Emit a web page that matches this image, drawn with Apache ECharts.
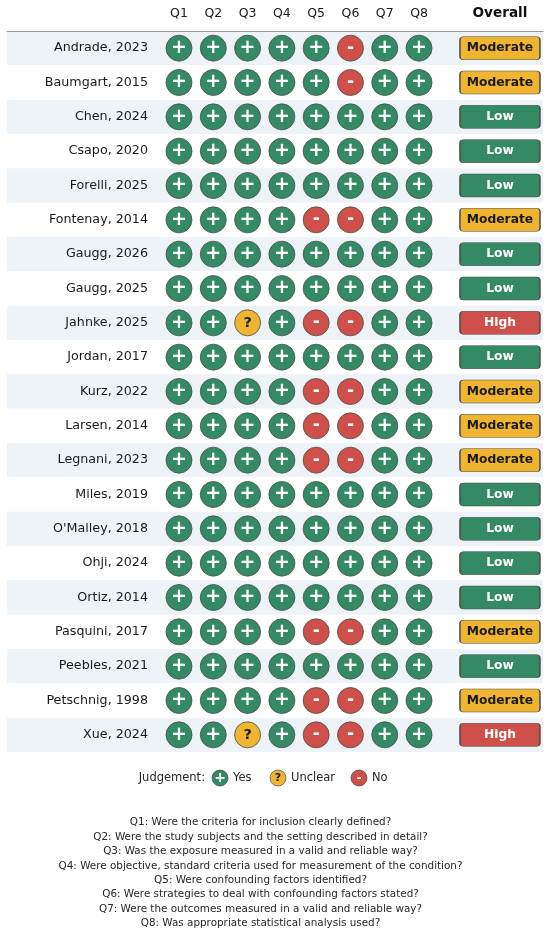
<!DOCTYPE html>
<html>
<head>
<meta charset="utf-8">
<script src="https://cdn.jsdelivr.net/npm/echarts@6/dist/echarts.min.js"></script>
<style>
html,body{margin:0;padding:0;background:#fff;}
#chart{width:550px;height:935px;}
</style>
</head>
<body>
<div id="chart"></div>
<script>
const studies = ['Andrade, 2023','Baumgart, 2015','Chen, 2024','Csapo, 2020','Forelli, 2025','Fontenay, 2014','Gaugg, 2026','Gaugg, 2025','Jahnke, 2025','Jordan, 2017','Kurz, 2022','Larsen, 2014','Legnani, 2023','Miles, 2019',"O'Malley, 2018",'Ohji, 2024','Ortiz, 2014','Pasquini, 2017','Peebles, 2021','Petschnig, 1998','Xue, 2024'];
const questions = ['Q1','Q2','Q3','Q4','Q5','Q6','Q7','Q8'];
// Y = yes, U = unclear, N = no (Q1..Q8 per study)
const judgements = [
  'YYYYYNYY','YYYYYNYY','YYYYYYYY','YYYYYYYY','YYYYYYYY','YYYYNNYY','YYYYYYYY','YYYYYYYY',
  'YYUYNNYY','YYYYYYYY','YYYYNNYY','YYYYNNYY','YYYYNNYY','YYYYYYYY','YYYYYYYY','YYYYYYYY',
  'YYYYYYYY','YYYYNNYY','YYYYYYYY','YYYYNNYY','YYUYNNYY'
];
const overall = ['Moderate','Moderate','Low','Low','Low','Moderate','Low','Low','High','Low','Moderate','Moderate','Moderate','Low','Low','Low','Low','Moderate','Low','Moderate','High'];
const footnotes = [
  'Q1: Were the criteria for inclusion clearly defined?',
  'Q2: Were the study subjects and the setting described in detail?',
  'Q3: Was the exposure measured in a valid and reliable way?',
  'Q4: Were objective, standard criteria used for measurement of the condition?',
  'Q5: Were confounding factors identified?',
  'Q6: Were strategies to deal with confounding factors stated?',
  'Q7: Were the outcomes measured in a valid and reliable way?',
  'Q8: Was appropriate statistical analysis used?'
];
const legendItems = [['Y','Yes'],['U','Unclear'],['N','No']];

const FONT = 'DejaVu Sans';
const GREEN = '#358a66', YELLOW = '#efb430', RED = '#cf4f4a', EDGE = '#4a4a4a';
const jColor = {Y: GREEN, U: YELLOW, N: RED};
const jGlyph = {Y: '+', U: '?', N: '-'};
const jText = {Y: '#ffffff', U: '#1a1a1a', N: '#ffffff'};
const jSize = {Y: 19, U: 14.5, N: 17};
const oColor = {Low: GREEN, Moderate: YELLOW, High: RED};
const oText = {Low: '#ffffff', Moderate: '#1a1a1a', High: '#ffffff'};
const OVERALL_X = 10.36;
// rounded rectangle outline (80 x 23 box, corner 3.5)
const BOX_PATH = 'path://M3.5,0 L76.5,0 Q80,0 80,3.5 L80,19.5 Q80,23 76.5,23 L3.5,23 Q0,23 0,19.5 L0,3.5 Q0,0 3.5,0 Z';

const circleData = [];
studies.forEach((s, i) => {
  judgements[i].split('').forEach((j, q) => {
    circleData.push({
      value: [q + 1, s],
      itemStyle: {color: jColor[j]},
      label: {formatter: jGlyph[j], color: jText[j], fontSize: jSize[j]}
    });
  });
});
const overallData = studies.map((s, i) => ({
  value: [OVERALL_X, s],
  itemStyle: {color: oColor[overall[i]]},
  label: {formatter: overall[i], color: oText[overall[i]]}
}));

const chart = echarts.init(document.getElementById('chart'), null, {renderer: 'canvas'});

const graphics = [];
graphics.push({type: 'text', x: 205, y: 778, style: {text: 'Judgement:', font: '11.5px "DejaVu Sans"', fill: '#262626', align: 'right', verticalAlign: 'middle'}});
const legendX = [220, 278, 359];
legendItems.forEach(([k, name], i) => {
  graphics.push({type: 'circle', shape: {cx: legendX[i], cy: 778, r: 8}, style: {fill: jColor[k], stroke: EDGE, lineWidth: 0.7}});
  graphics.push({type: 'text', x: legendX[i], y: 778.5, style: {text: jGlyph[k], font: 'bold ' + (k === 'Y' ? 14 : (k === 'N' ? 12 : 11)) + 'px "DejaVu Sans"', fill: jText[k], align: 'center', verticalAlign: 'middle'}});
  graphics.push({type: 'text', x: legendX[i] + 13, y: 778, style: {text: name, font: '11.5px "DejaVu Sans"', fill: '#262626', align: 'left', verticalAlign: 'middle'}});
});
graphics.push({
  type: 'text', x: 260.5, y: 815.5,
  style: {text: footnotes.join('\n'), font: '10.4px "DejaVu Sans"', fill: '#262626', align: 'center', verticalAlign: 'top', lineHeight: 14.4}
});

chart.setOption({
  animation: false,
  backgroundColor: '#ffffff',
  textStyle: {fontFamily: FONT},
  grid: {left: 7, right: 7, top: 31, bottom: 183},
  xAxis: {
    type: 'value',
    position: 'top',
    min: -4.016,
    max: 11.615,
    axisLine: {show: true, lineStyle: {color: '#9a9a9a', width: 1.2}},
    axisTick: {show: false},
    splitLine: {show: false},
    axisLabel: {
      show: true,
      customValues: [1,2,3,4,5,6,7,8,OVERALL_X],
      margin: 11,
      fontSize: 12.5,
      color: '#1a1a1a',
      formatter: v => v === OVERALL_X ? '{b|Overall}' : questions[Math.round(v) - 1],
      rich: {b: {fontWeight: 'bold', fontSize: 13.6, color: '#111', fontFamily: FONT}}
    }
  },
  yAxis: {
    type: 'category',
    data: studies,
    inverse: true,
    offset: -145,
    axisLine: {show: false},
    axisTick: {show: false},
    axisLabel: {margin: 4, fontSize: 12.7, color: '#1a1a1a'},
    splitLine: {show: false},
    splitArea: {show: true, areaStyle: {color: ['#eef3f7', '#ffffff']}}
  },
  series: [
    {
      type: 'scatter',
      symbol: 'circle',
      symbolSize: 26,
      data: circleData,
      itemStyle: {borderColor: EDGE, borderWidth: 0.8, opacity: 1},
      label: {show: true, position: 'inside', fontWeight: 'bold', fontFamily: FONT},
      emphasis: {disabled: true}
    },
    {
      type: 'scatter',
      symbol: BOX_PATH,
      symbolSize: [80, 23],
      symbolKeepAspect: false,
      data: overallData,
      itemStyle: {borderColor: EDGE, borderWidth: 0.8, opacity: 1},
      label: {show: true, position: 'inside', fontWeight: 'bold', fontSize: 12.3, fontFamily: FONT},
      emphasis: {disabled: true}
    }
  ],
  graphic: graphics
});
</script>
</body>
</html>
